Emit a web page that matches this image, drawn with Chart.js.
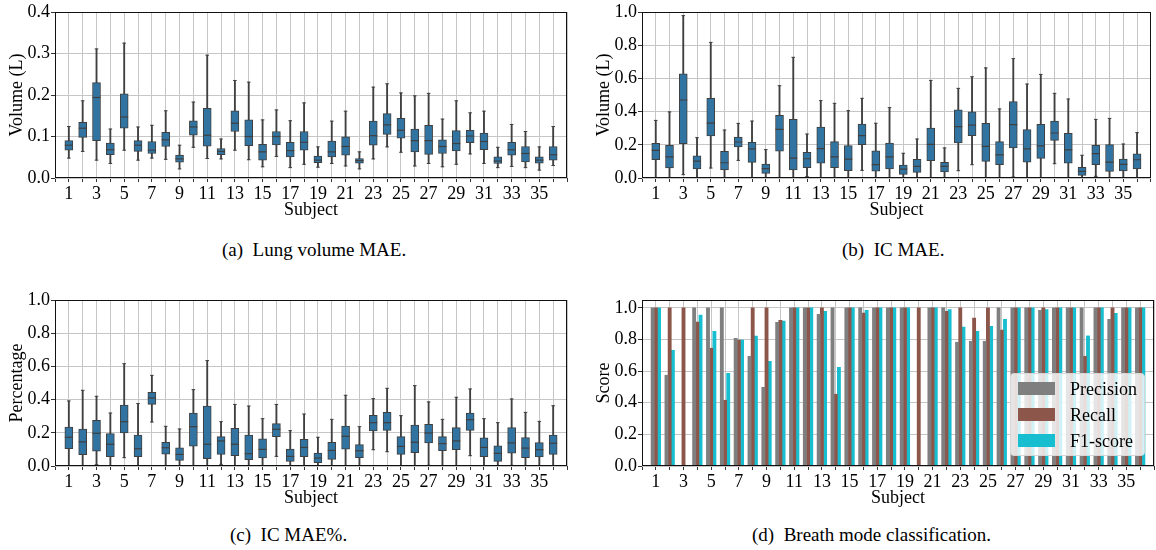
<!DOCTYPE html>
<html>
<head>
<meta charset="utf-8">
<title>Breathing evaluation per subject</title>
<script src="https://cdn.jsdelivr.net/npm/chart.js@4.4.1/dist/chart.umd.min.js"></script>
<style>
  body { margin: 0; background: #fff; width: 1156px; height: 550px; position: relative; overflow: hidden; font-family: "Liberation Serif", "Times New Roman", serif; }
  canvas { position: absolute; }
  .caption { position: absolute; font-size: 19px; line-height: 22px; white-space: pre; color: #000; }
  #legendD { position: absolute; left: 1010px; top: 373px; width: 133px; height: 81px; background: rgba(255,255,255,0.8); border: 1px solid #d6d6d6; border-radius: 4px; }
  #legendD .row { position: absolute; left: 7px; height: 26px; font-size: 18px; line-height: 26px; color: #000; }
  #legendD .swatch { position: absolute; left: 0; top: 6px; width: 37px; height: 13px; }
  #legendD .label { position: absolute; left: 52px; top: 0; white-space: nowrap; }
</style>
</head>
<body>

<canvas id="chartA" width="575" height="225" style="left:0;top:0"></canvas>
<canvas id="chartB" width="569" height="225" style="left:587px;top:0"></canvas>
<canvas id="chartC" width="575" height="225" style="left:0;top:288px"></canvas>
<canvas id="chartD" width="569" height="225" style="left:587px;top:288px"></canvas>

<div class="caption" style="left:222px;top:239px">(a)  Lung volume MAE.</div>
<div class="caption" style="left:842px;top:239px">(b)  IC MAE.</div>
<div class="caption" style="left:230px;top:524px">(c)  IC MAE%.</div>
<div class="caption" style="left:752px;top:524px">(d)  Breath mode classification.</div>

<div id="legendD">
  <div class="row" style="top:2px"><div class="swatch" style="background:#7f7f7f"></div><div class="label">Precision</div></div>
  <div class="row" style="top:28px"><div class="swatch" style="background:#8c564b"></div><div class="label">Recall</div></div>
  <div class="row" style="top:54px"><div class="swatch" style="background:#17becf"></div><div class="label">F1-score</div></div>
</div>

<script>
var subjects = [1,2,3,4,5,6,7,8,9,10,11,12,13,14,15,16,17,18,19,20,21,22,23,24,25,26,27,28,29,30,31,32,33,34,35,36];
var xTicks = [0,1,2,3,4,5,6,7,8,9,10,11,12,13,14,15,16,17,18,19,20,21,22,23,24,25,26,27,28,29,30,31,32,33,34,35,36,37];
var lungTicks = [0, 0.1, 0.2, 0.3, 0.4];
var unitTicks = [0, 0.2, 0.4, 0.6, 0.8, 1.0];

// lung volume MAE (L): whisker low, Q1, median, Q3, whisker high
var lungLo  = [0.048,0.064,0.043,0.035,0.067,0.043,0.048,0.045,0.022,0.074,0.047,0.046,0.067,0.044,0.027,0.052,0.025,0.033,0.026,0.035,0.029,0.022,0.046,0.075,0.062,0.029,0.035,0.027,0.033,0.058,0.035,0.025,0.028,0.025,0.019,0.030];
var lungQ1  = [0.067,0.098,0.090,0.056,0.120,0.064,0.059,0.076,0.038,0.103,0.077,0.056,0.112,0.078,0.043,0.080,0.051,0.067,0.037,0.051,0.055,0.036,0.079,0.105,0.096,0.063,0.057,0.059,0.065,0.085,0.068,0.035,0.055,0.039,0.036,0.043];
var lungMed = [0.079,0.120,0.194,0.068,0.147,0.079,0.067,0.092,0.046,0.123,0.103,0.064,0.132,0.100,0.063,0.100,0.066,0.086,0.043,0.063,0.076,0.042,0.102,0.128,0.115,0.090,0.090,0.076,0.083,0.101,0.088,0.041,0.068,0.059,0.043,0.056];
var lungQ3  = [0.090,0.134,0.230,0.084,0.203,0.090,0.088,0.110,0.055,0.138,0.168,0.071,0.162,0.140,0.081,0.112,0.086,0.112,0.053,0.089,0.099,0.047,0.137,0.155,0.144,0.118,0.127,0.092,0.114,0.115,0.108,0.051,0.086,0.076,0.051,0.076];
var lungHi  = [0.124,0.186,0.311,0.118,0.325,0.123,0.127,0.162,0.079,0.183,0.296,0.094,0.235,0.231,0.140,0.164,0.138,0.181,0.075,0.137,0.161,0.063,0.219,0.227,0.205,0.198,0.204,0.142,0.186,0.157,0.161,0.074,0.129,0.112,0.075,0.124];

// IC MAE (L)
var icLo  = [0,0,0.020,0,0.060,0,0.106,0,0,0,0,0.008,0,0,0,0.046,0,0,0,0,0,0,0.044,0.080,0,0,0.006,0,0,0.086,0,0,0.010,0,0,0];
var icQ1  = [0.110,0.060,0.207,0.054,0.253,0.048,0.187,0.094,0.028,0.161,0.048,0.062,0.090,0.062,0.044,0.201,0.041,0.054,0.022,0.034,0.104,0.036,0.211,0.255,0.100,0.080,0.181,0.096,0.118,0.227,0.090,0.016,0.080,0.040,0.042,0.054];
var icMed = [0.167,0.127,0.470,0.102,0.331,0.092,0.217,0.175,0.056,0.293,0.120,0.116,0.177,0.127,0.114,0.255,0.081,0.127,0.054,0.070,0.203,0.070,0.309,0.319,0.191,0.139,0.321,0.175,0.193,0.271,0.169,0.040,0.147,0.096,0.082,0.110];
var icQ3  = [0.209,0.197,0.627,0.133,0.480,0.161,0.247,0.215,0.084,0.378,0.353,0.155,0.307,0.219,0.195,0.325,0.163,0.211,0.078,0.112,0.301,0.094,0.410,0.398,0.329,0.219,0.460,0.291,0.323,0.343,0.269,0.064,0.197,0.201,0.114,0.145];
var icHi  = [0.347,0.398,0.978,0.243,0.817,0.289,0.329,0.343,0.171,0.556,0.727,0.265,0.466,0.450,0.406,0.480,0.330,0.424,0.149,0.235,0.588,0.181,0.540,0.610,0.663,0.416,0.719,0.566,0.624,0.510,0.476,0.137,0.353,0.359,0.205,0.273];

// IC MAE relative to IC
var pctLo  = [0,0,0.008,0,0.050,0,0.265,0,0,0,0,0.010,0,0,0,0.058,0,0,0,0,0,0,0.098,0.086,0,0,0.004,0,0,0.062,0,0,0.004,0,0,0];
var pctQ1  = [0.104,0.068,0.090,0.056,0.199,0.056,0.371,0.072,0.034,0.120,0.044,0.070,0.062,0.038,0.048,0.177,0.028,0.056,0.020,0.040,0.102,0.050,0.211,0.215,0.070,0.080,0.139,0.092,0.098,0.215,0.056,0.028,0.078,0.050,0.054,0.070];
var pctMed = [0.173,0.145,0.197,0.131,0.267,0.104,0.410,0.110,0.070,0.237,0.131,0.151,0.131,0.074,0.100,0.221,0.058,0.112,0.048,0.094,0.179,0.092,0.261,0.261,0.118,0.143,0.199,0.135,0.151,0.279,0.112,0.076,0.139,0.108,0.098,0.137];
var pctQ3  = [0.235,0.223,0.275,0.195,0.367,0.187,0.444,0.143,0.110,0.319,0.361,0.177,0.227,0.187,0.163,0.255,0.102,0.161,0.078,0.143,0.241,0.129,0.305,0.323,0.177,0.247,0.251,0.177,0.231,0.319,0.169,0.122,0.231,0.171,0.141,0.187];
var pctHi  = [0.392,0.456,0.420,0.319,0.616,0.376,0.546,0.239,0.223,0.460,0.635,0.267,0.371,0.361,0.285,0.371,0.213,0.313,0.173,0.281,0.426,0.237,0.406,0.468,0.303,0.484,0.386,0.281,0.414,0.464,0.285,0.261,0.404,0.323,0.269,0.363];

// breath mode classification scores
var precision = [1,0.574,0,1,1,1,0.808,0.694,0.498,0.909,1,1,0.960,1,1,1,1,1,1,0,1,1,0.783,0.789,0.789,1,1,1,0.985,1,1,1,1,0.928,1,1];
var recall    = [1,1,1,0.911,0.745,0.416,0.797,1,1,0.922,1,1,1,0.454,1,0.968,1,1,1,1,1,0.979,1,0.935,1,0.859,1,1,1,1,1,0.694,1,1,1,1];
var f1score   = [1,0.732,0,0.954,0.852,0.586,0.797,0.821,0.662,0.916,1,1,0.979,0.624,1,0.985,1,1,1,0,1,0.989,0.878,0.852,0.884,0.928,1,1,0.990,1,1,0.823,1,0.966,1,1];

var FONT = '"Liberation Serif", "Times New Roman", serif';
var BOX = '#3274a1';
var LINE = '#3f3f3f';
var GRID = '#c6c6c6';

// black box around the plot area on all four sides
var framePlugin = {
    id: 'frame',
    afterDraw: function(chart){
        var a = chart.chartArea;
        var ctx = chart.ctx;
        ctx.save();
        ctx.strokeStyle = '#111';
        ctx.lineWidth = 1;
        var l = Math.round(a.left) + 0.5, t = Math.round(a.top) + 0.5;
        var r = Math.round(a.right) - 0.5, b = Math.round(a.bottom) - 0.5;
        ctx.strokeRect(l, t, r - l, b - t);
        ctx.restore();
    }
};

function setTicks(values){
    return function(scale){
        scale.ticks = values.map(function(v){ return {value: v}; });
    };
}

function xScale(){
    return {
        type: 'linear', min: 0, max: 37, offset: false, z: 1,
        afterBuildTicks: setTicks(xTicks),
        ticks: {
            autoSkip: false, maxRotation: 0, minRotation: 0, padding: 1, color: '#000',
            font: {family: FONT, size: 18},
            callback: function(v){ return (v % 2 === 1 && v <= 35) ? String(v) : ''; }
        },
        grid: {color: GRID, lineWidth: 1, offset: false, tickLength: 4, tickColor: '#333'},
        border: {display: false},
        title: {display: true, text: 'Subject', color: '#000', font: {family: FONT, size: 18}, padding: {top: 0, bottom: 4}},
        afterFit: function(s){ s.height = 47; }
    };
}

function yScale(max, tickValues, title){
    return {
        type: 'linear', min: 0, max: max, z: 1,
        afterBuildTicks: setTicks(tickValues),
        ticks: {
            padding: 1, color: '#000', font: {family: FONT, size: 18},
            callback: function(v){ return Number(v).toFixed(1); }
        },
        grid: {color: GRID, lineWidth: 1, tickLength: 4, tickColor: '#333'},
        border: {display: false},
        title: {display: true, text: title, color: '#000', font: {family: FONT, size: 18}, padding: {top: 6, bottom: 0}},
        afterFit: function(s){ s.width = 55; }
    };
}

function boxDatasets(lo, q1, med, q3, hi){
    var whiskers = subjects.map(function(s, i){ return {x: s, y: [lo[i], hi[i]]}; });
    var boxes = subjects.map(function(s, i){ return {x: s, y: [q1[i], q3[i]]}; });
    var medians = subjects.map(function(s, i){ return {x: s, y: med[i]}; });
    var caps = [];
    subjects.forEach(function(s, i){
        caps.push({x: s, y: lo[i]});
        caps.push({x: s, y: hi[i]});
    });

    return [
        {type: 'scatter', data: medians, order: 0, pointStyle: 'line', pointRadius: 4,
         pointBorderColor: LINE, pointBorderWidth: 1.2, pointBackgroundColor: LINE},
        {type: 'scatter', data: caps, order: 1, pointStyle: 'line', pointRadius: 1.8,
         pointBorderColor: LINE, pointBorderWidth: 1, pointBackgroundColor: LINE},
        {type: 'bar', data: boxes, order: 2, grouped: false, barThickness: 8,
         backgroundColor: BOX, borderColor: LINE, borderWidth: 1, borderSkipped: false},
        {type: 'bar', data: whiskers, order: 3, grouped: false, barThickness: 1.2,
         backgroundColor: LINE, borderWidth: 0}
    ];
}

function commonOptions(padRight){
    return {
        responsive: false,
        animation: false,
        events: [],
        layout: {padding: {top: 12, right: padRight, left: 0, bottom: 0}},
        plugins: {legend: {display: false}, tooltip: {enabled: false}}
    };
}

function boxChart(id, padRight, yMax, tickValues, yTitle, series){
    var opts = commonOptions(padRight);
    opts.scales = {x: xScale(), y: yScale(yMax, tickValues, yTitle)};
    return new Chart(document.getElementById(id).getContext('2d'), {
        type: 'bar',
        data: {datasets: boxDatasets.apply(null, series)},
        options: opts,
        plugins: [framePlugin]
    });
}

var chartA = boxChart('chartA', 8, 0.4, lungTicks, 'Volume (L)', [lungLo, lungQ1, lungMed, lungQ3, lungHi]);
var chartB = boxChart('chartB', 2, 1.0, unitTicks, 'Volume (L)', [icLo, icQ1, icMed, icQ3, icHi]);
var chartC = boxChart('chartC', 8, 1.0, unitTicks, 'Percentage', [pctLo, pctQ1, pctMed, pctQ3, pctHi]);

function scorePoints(values){
    return subjects.map(function(s, i){ return {x: s, y: values[i]}; });
}

var optsD = commonOptions(2);
optsD.scales = {x: xScale(), y: yScale(1.05, unitTicks, 'Score')};
var chartD = new Chart(document.getElementById('chartD').getContext('2d'), {
    type: 'bar',
    data: {
        datasets: [
            {label: 'Precision', data: scorePoints(precision), backgroundColor: '#7f7f7f', barThickness: 3.2, borderWidth: 0},
            {label: 'Recall', data: scorePoints(recall), backgroundColor: '#8c564b', barThickness: 3.2, borderWidth: 0},
            {label: 'F1-score', data: scorePoints(f1score), backgroundColor: '#17becf', barThickness: 3.2, borderWidth: 0}
        ]
    },
    options: optsD,
    plugins: [framePlugin]
});
</script>
</body>
</html>
